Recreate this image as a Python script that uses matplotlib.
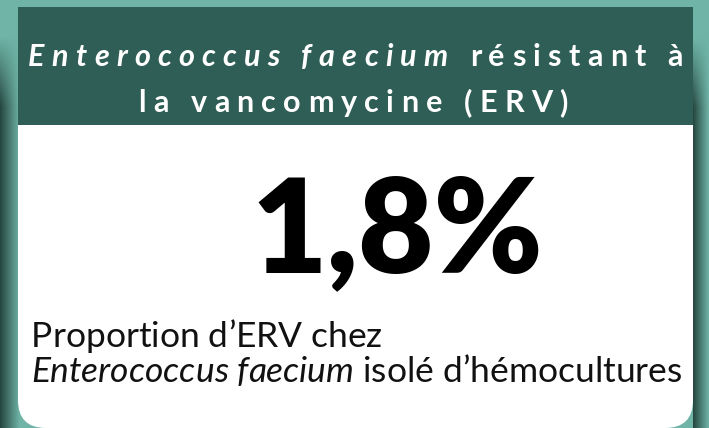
import numpy as np
import matplotlib
matplotlib.use('Agg')
import matplotlib.pyplot as plt
from matplotlib.patches import Rectangle, FancyBboxPatch
from matplotlib.font_manager import FontProperties, findfont
from matplotlib.ft2font import FT2Font

# Card content
title_line1 = [('Enterococcus faecium', 'italic'), (' résistant à', 'normal')]
title_line2 = [('la vancomycine (ERV)', 'normal')]
big_value = '1,8%'
caption_line1 = [('Proportion d\u2019ERV chez', 'normal')]
caption_line2 = [('Enterococcus faecium', 'italic'), (' isolé d\u2019hémocultures', 'normal')]

FONT = 'Lato'
DPI = 100
teal = '#6fb4a7'
dark_green = '#2f5e56'
shadow = '#25463f'

fig = plt.figure(figsize=(7.09, 4.28), dpi=DPI)
fig.patch.set_facecolor(teal)
ax = fig.add_axes([0, 0, 1, 1])
ax.set_xlim(0, 709)
ax.set_ylim(428, 0)
ax.axis('off')


def advance(ch, fp):
    # horizontal advance of one glyph, in pixels
    font = FT2Font(findfont(fp))
    font.set_size(fp.get_size_in_points(), DPI)
    g = font.load_char(ord(ch))
    return g.linearHoriAdvance / 65536


def parts_layout(parts, size, weight):
    items = []
    for txt, style in parts:
        fp = FontProperties(family=FONT, size=size, weight=weight, style=style)
        for ch in txt:
            items.append((ch, fp, advance(ch, fp)))
    return items


def draw_parts(items, x, y, track, color, ha='left'):
    total = sum(w for _, _, w in items) + track * (len(items) - 1)
    if ha == 'center':
        x -= total / 2
    for ch, fp, w in items:
        if ch != ' ':
            ax.text(x, y, ch, fontproperties=fp, color=color, ha='left', va='baseline', zorder=4)
        x += w + track
    return total


# side shadows from the neighbouring cards
grad = np.linspace(1, 0, 40)[None, :]
vfade = np.clip(np.linspace(0, 1, 200) * 6 - 0.4, 0, 1)[:, None]
cmap = matplotlib.colors.LinearSegmentedColormap.from_list('sh', [teal, shadow])
ax.imshow(grad * vfade, cmap=cmap, vmin=0, vmax=1, extent=[0, 20, 428, 8],
          aspect='auto', interpolation='bilinear', zorder=1)
ax.imshow(grad * vfade, cmap=cmap, vmin=0, vmax=1, extent=[693, 709, 428, 10],
          aspect='auto', interpolation='bilinear', zorder=1)

# card
card = FancyBboxPatch((18, 7), 675, 421, boxstyle='round,pad=0,rounding_size=28',
                      facecolor='white', edgecolor='none', zorder=2)
ax.add_patch(card)
ax.add_patch(Rectangle((18, 7), 675, 118, facecolor=dark_green, edgecolor='none', zorder=3))

# header title with wide letter spacing
line1 = parts_layout(title_line1, 22, 'bold')
line2 = parts_layout(title_line2, 22, 'bold')
raw = sum(w for _, _, w in line1)
track = (655 - raw) / (len(line1) - 1)
draw_parts(line1, 355.5, 66, track, 'white', ha='center')
draw_parts(line2, 353, 112, track, 'white', ha='center')

# big value
ax.text(251, 272, big_value, fontfamily=FONT, fontweight='heavy', fontsize=94,
        color='black', ha='left', va='baseline', zorder=4)

# caption
cap1 = parts_layout(caption_line1, 25.5, 'normal')
cap2 = parts_layout(caption_line2, 25.5, 'normal')
draw_parts(cap1, 31, 347, 0, '#111111')
draw_parts(cap2, 31, 382, 0, '#111111')

fig.savefig('out.png', dpi=DPI, facecolor=teal)
